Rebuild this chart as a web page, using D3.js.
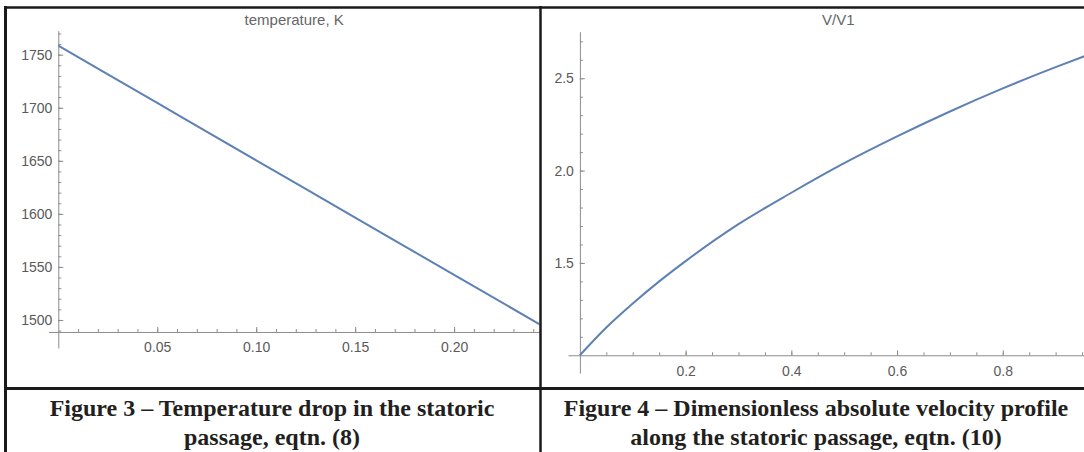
<!DOCTYPE html>
<html>
<head>
<meta charset="utf-8">
<script src="https://cdn.jsdelivr.net/npm/d3@7"></script>
<style>
  html, body { margin: 0; padding: 0; background: #fff; }
  svg { display: block; }
</style>
</head>
<body>
<div id="chart"></div>
<script>
// Figure 3 - temperature along the statoric passage
const tempX = [0, 0.05, 0.10, 0.15, 0.20, 0.243];
const tempK = [1758.5, 1704.5, 1650.5, 1596.5, 1542.5, 1496.2];
const tempXTicks = [0.05, 0.10, 0.15, 0.20];
const tempYTicks = [1500, 1550, 1600, 1650, 1700, 1750];

// Figure 4 - dimensionless absolute velocity
const velX = [0, 0.05, 0.10, 0.15, 0.20, 0.30, 0.40, 0.50, 0.60, 0.70, 0.80, 0.90, 0.96];
const velV = [1.0, 1.15, 1.28, 1.40, 1.51, 1.71, 1.88, 2.04, 2.185, 2.32, 2.445, 2.56, 2.625];
const velXTicks = [0.2, 0.4, 0.6, 0.8];
const velYTicks = [1.5, 2.0, 2.5];

const captions = [
    ["Figure 3 \u2013 Temperature drop in the statoric", "passage, eqtn. (8)"],
    ["Figure 4 \u2013 Dimensionless absolute velocity profile", "along the statoric passage, eqtn. (10)"]
];

const width = 1084;
const height = 452;
const axis_color = "#8c8c8c";
const label_color = "#5a5a5a";
const line_color = "#5e81b5";

const svg = d3.select("#chart").append("svg")
    .attr("width", width)
    .attr("height", height)
    .style("background", "#fff");

// Draw one Mathematica-like panel
function drawPanel(cfg) {
    const x = d3.scaleLinear().domain(cfg.xDomain).range(cfg.xRange);
    const y = d3.scaleLinear().domain(cfg.yDomain).range(cfg.yRange);
    const g = svg.append("g");

    // minor ticks first
    const yMinor = d3.range(cfg.yMinor[0], cfg.yMinor[1] + 1e-9, cfg.yMinor[2]);
    const xMinor = d3.range(cfg.xMinor[0], cfg.xMinor[1] + 1e-9, cfg.xMinor[2]);

    g.append("g")
        .attr("transform", `translate(${x(0)},0)`)
        .call(d3.axisLeft(y).tickValues(yMinor).tickFormat("").tickSizeInner(-3).tickSizeOuter(0))
        .call(a => a.select(".domain").remove());
    g.append("g")
        .attr("transform", `translate(0,${y(cfg.origin)})`)
        .call(d3.axisBottom(x).tickValues(xMinor).tickFormat("").tickSizeInner(-3).tickSizeOuter(0))
        .call(a => a.select(".domain").remove());

    g.append("g")
        .attr("transform", `translate(${x(0)},0)`)
        .call(d3.axisLeft(y).tickValues(cfg.yTicks).tickFormat(d3.format(cfg.yFormat))
            .tickSizeInner(-5).tickSizeOuter(0).tickPadding(6));
    g.append("g")
        .attr("transform", `translate(0,${y(cfg.origin)})`)
        .call(d3.axisBottom(x).tickValues(cfg.xTicks).tickFormat(d3.format(cfg.xFormat))
            .tickSizeInner(-5).tickSizeOuter(0).tickPadding(cfg.xPad));

    g.selectAll(".tick line, .domain").attr("stroke", axis_color).attr("stroke-width", 1);
    g.selectAll("text")
        .attr("fill", label_color)
        .style("font", "14px 'Liberation Sans', Arial, sans-serif");

    // the curve
    const line = d3.line()
        .x((d, i) => x(cfg.xs[i]))
        .y(d => y(d))
        .curve(d3.curveMonotoneX);
    g.append("path")
        .datum(cfg.ys)
        .attr("fill", "none")
        .attr("stroke", line_color)
        .attr("stroke-width", 2)
        .attr("d", line);

    // title
    g.append("text")
        .attr("x", (cfg.xRange[0] + cfg.xRange[1]) / 2)
        .attr("y", 25)
        .attr("text-anchor", "middle")
        .attr("fill", "#666")
        .style("font", "15px 'Liberation Sans', Arial, sans-serif")
        .text(cfg.title);
}

drawPanel({
    xs: tempX, ys: tempK,
    xDomain: [-0.005, 0.2434], xRange: [48.4, 540],
    yDomain: [1473.6, 1772.6], yRange: [348, 30.7],
    origin: 1488.7,
    xTicks: tempXTicks, yTicks: tempYTicks,
    xFormat: ".2f", yFormat: "d",
    xMinor: [0.01, 0.24, 0.01], yMinor: [1490, 1770, 10],
    xPad: 10,
    title: "temperature, K"
});

drawPanel({
    xs: velX, ys: velV,
    xDomain: [-0.0225, 1.0], xRange: [568, 1108.5],
    yDomain: [0.904, 2.752], yRange: [373, 31.7],
    origin: 1.0,
    xTicks: velXTicks, yTicks: velYTicks,
    xFormat: ".1f", yFormat: ".1f",
    xMinor: [0.05, 0.95, 0.05], yMinor: [1.1, 2.7, 0.1],
    xPad: 11,
    title: "V/V1"
});

// table borders
const borders = svg.append("g").attr("stroke", "#1a1a1a");
borders.append("line").attr("x1", 5.5).attr("x2", 5.5).attr("y1", 6).attr("y2", height).attr("stroke-width", 3);
borders.append("line").attr("x1", 4).attr("x2", width).attr("y1", 7.5).attr("y2", 7.5).attr("stroke-width", 2.5);
borders.append("line").attr("x1", 540.5).attr("x2", 540.5).attr("y1", 6).attr("y2", height).attr("stroke-width", 2.5);
borders.append("line").attr("x1", 4).attr("x2", width).attr("y1", 388.5).attr("y2", 388.5).attr("stroke-width", 3);

// captions
const captionCenters = [272, 816];
captions.forEach((lines, i) => {
    lines.forEach((t, j) => {
        svg.append("text")
            .attr("x", captionCenters[i])
            .attr("y", 416 + j * 29)
            .attr("text-anchor", "middle")
            .attr("fill", "#231f20")
            .style("font", "bold 24px 'Liberation Serif', 'Times New Roman', serif")
            .text(t);
    });
});
</script>
</body>
</html>
